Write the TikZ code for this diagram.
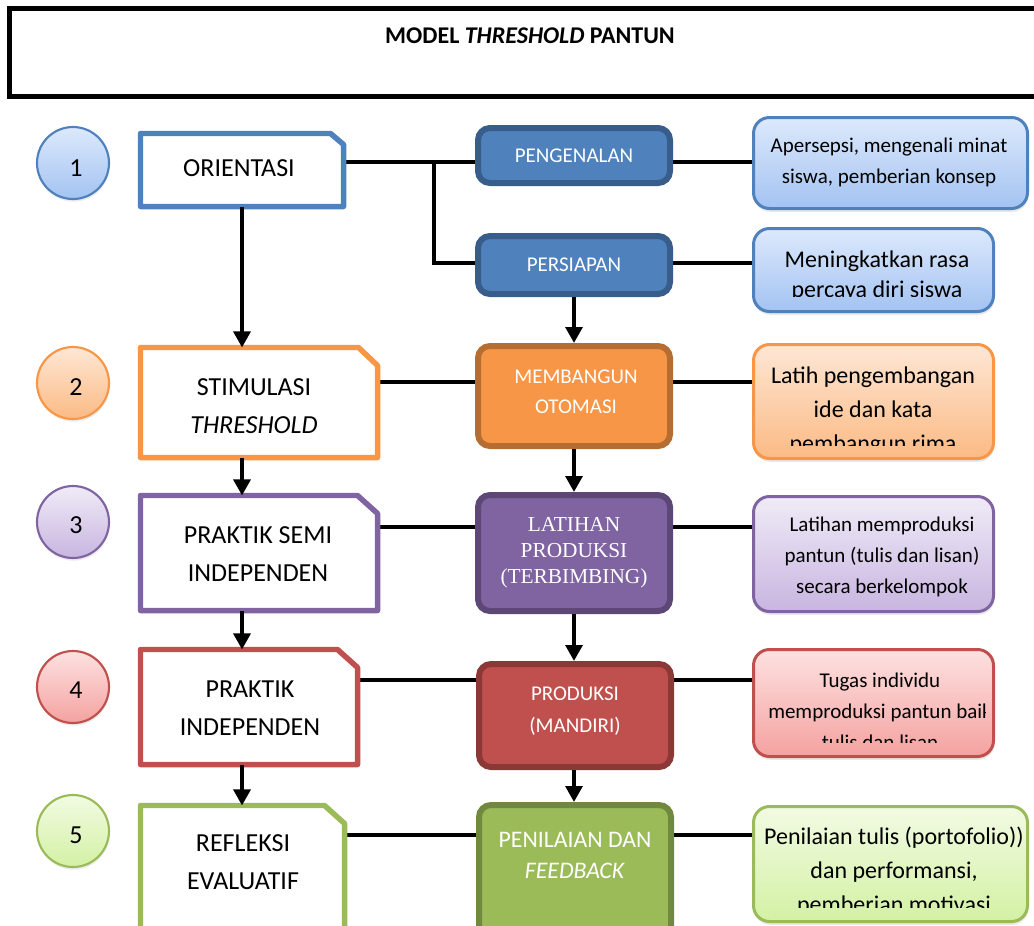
\documentclass[tikz,border=0pt]{standalone}
\usepackage{fontspec}
\setmainfont{Carlito}
\newfontfamily\timesf{Liberation Serif}
\usetikzlibrary{arrows.meta,fit,calc,shadows,backgrounds}
\definecolor{bluM}{HTML}{4F81BD}\definecolor{bluD}{HTML}{385D8A}
\definecolor{bluT}{HTML}{DDE9FC}\definecolor{bluB}{HTML}{A3C3F2}
\definecolor{orgM}{HTML}{F79646}\definecolor{orgD}{HTML}{B66D31}
\definecolor{orgT}{HTML}{FEE7D5}\definecolor{orgB}{HTML}{FBBA84}
\definecolor{purM}{HTML}{8064A2}\definecolor{purD}{HTML}{5C4776}
\definecolor{purT}{HTML}{F0EBF7}\definecolor{purB}{HTML}{C8B5E0}
\definecolor{redM}{HTML}{C0504D}\definecolor{redD}{HTML}{8C3836}
\definecolor{redT}{HTML}{FDE1E1}\definecolor{redB}{HTML}{F4A2A0}
\definecolor{grnM}{HTML}{9BBB59}\definecolor{grnD}{HTML}{71893F}
\definecolor{grnT}{HTML}{F2FBE3}\definecolor{grnB}{HTML}{D3F1A4}
\begin{document}
\begin{tikzpicture}[x=0.75pt,y=-0.75pt,
  lshape/.style={inner sep=0pt},
  lborder/.style={line width=4.1pt, line join=round, fill=white},
  mbox/.style={inner sep=0pt, rounded corners=9pt, line width=4.5pt},
  rbox/.style={inner sep=0pt, rounded corners=12pt, line width=2.25pt,
    drop shadow={opacity=0.18, shadow xshift=0.6pt, shadow yshift=-2.5pt}},
  numc/.style={circle, inner sep=0pt, minimum size=54pt, line width=1.6pt,
    drop shadow={opacity=0.15, shadow xshift=0.5pt, shadow yshift=-2pt}},
  numt/.style={inner sep=0pt, font={\fontsize{19.5pt}{24pt}\selectfont}},
  conn/.style={line width=2.4pt},
  arr/.style={line width=3pt, -{Triangle[width=12.5pt,length=12pt]}},
  ltext/.style={align=center, inner sep=0pt, font={\fontsize{19.5pt}{28.5pt}\selectfont}},
  mtext/.style={align=center, inner sep=0pt, text=white},
  rtext/.style={align=center, inner sep=0pt},
]
\useasboundingbox (0,0) rectangle (1034,925);

% title
\node[fit={(9,8) (1050,96)}, inner sep=0pt, draw, line width=3.75pt] (tbox) {};
\node[inner sep=0pt, font={\fontsize{18pt}{22pt}\selectfont\bfseries}] (title) at (530,36) {MODEL \textit{THRESHOLD} PANTUN};

% number circles
\node[numc, draw=bluM, top color=bluT, bottom color=bluB] (c1) at (73,163) {};
\node[numc, draw=orgM, top color=orgT, bottom color=orgB] (c2) at (73,383) {};
\node[numc, draw=purM, top color=purT, bottom color=purB] (c3) at (73,522) {};
\node[numc, draw=redM, top color=redT, bottom color=redB] (c4) at (73,687) {};
\node[numc, draw=grnM, top color=grnT, bottom color=grnB] (c5) at (73,831) {};
\node[numt] (n1) at (76,168) {1};
\node[numt] (n2) at (76,387) {2};
\node[numt] (n3) at (76,525) {3};
\node[numt] (n4) at (76,690) {4};
\node[numt] (n5) at (76,835) {5};

% left boxes
\node[lshape, fit={(140.75,133.75) (343.25,206.25)}] (l1) {};
\node[lshape, fit={(140.75,347.75) (377.25,457.25)}] (l2) {};
\node[lshape, fit={(140.75,495.75) (377.25,610.25)}] (l3) {};
\node[lshape, fit={(140.75,649.75) (357.25,764.25)}] (l4) {};
\node[lshape, fit={(140.75,805.75) (344.25,940)}] (l5) {};
\draw[lborder, draw=bluM] (l1.south west) -- (l1.north west) -- ($(l1.north east)+(-13,0)$) -- ($(l1.north east)+(0,11)$) -- (l1.south east) -- cycle;
\draw[lborder, draw=orgM] (l2.south west) -- (l2.north west) -- ($(l2.north east)+(-19,0)$) -- ($(l2.north east)+(0,18)$) -- (l2.south east) -- cycle;
\draw[lborder, draw=purM] (l3.south west) -- (l3.north west) -- ($(l3.north east)+(-20,0)$) -- ($(l3.north east)+(0,18)$) -- (l3.south east) -- cycle;
\draw[lborder, draw=redM] (l4.south west) -- (l4.north west) -- ($(l4.north east)+(-20,0)$) -- ($(l4.north east)+(0,18)$) -- (l4.south east) -- cycle;
\draw[lborder, draw=grnM] (l5.south west) -- (l5.north west) -- ($(l5.north east)+(-20,0)$) -- ($(l5.north east)+(0,18)$) -- (l5.south east) -- cycle;
\node[ltext] (l1t) at (239,168) {ORIENTASI};
\node[ltext] (l2t) at (254,406) {STIMULASI\\\textit{THRESHOLD}};
\node[ltext] (l3t) at (258,554) {PRAKTIK SEMI\\INDEPENDEN};
\node[ltext] (l4t) at (250,708.5) {PRAKTIK\\INDEPENDEN};
\node[ltext] (l5t) at (243,862.5) {REFLEKSI\\EVALUATIF};

% middle boxes
\node[mbox, fit={(478,128) (670,183)}, draw=bluD, fill=bluM] (m1) {};
\node[mbox, fit={(478,236) (670,294)}, draw=bluD, fill=bluM] (m2) {};
\node[mbox, fit={(478,346) (670,446)}, draw=orgD, fill=orgM] (m3) {};
\node[mbox, fit={(478,495) (670,611)}, draw=purD, fill=purM] (m4) {};
\node[mbox, fit={(479,664) (671,767)}, draw=redD, fill=redM] (m5) {};
\node[mbox, fit={(479,805) (671,940)}, draw=grnD, fill=grnM] (m6) {};
\node[mtext, font={\fontsize{15.75pt}{22.5pt}\selectfont}] (m1t) at (574,156) {PENGENALAN};
\node[mtext, font={\fontsize{15.75pt}{22.5pt}\selectfont}] (m2t) at (574,265) {PERSIAPAN};
\node[mtext, font={\fontsize{15.75pt}{22.5pt}\selectfont}] (m3t) at (576,392) {MEMBANGUN\\OTOMASI};
\node[mtext, font={\timesf\fontsize{16pt}{19.5pt}\selectfont}] (m4t) at (574,553) {LATIHAN\\PRODUKSI\\(TERBIMBING)};
\node[mtext, font={\fontsize{15.75pt}{24pt}\selectfont}] (m5t) at (575,711) {PRODUKSI\\(MANDIRI)};
\node[mtext, font={\fontsize{17.8pt}{23.25pt}\selectfont}] (m6t) at (575,855) {PENILAIAN DAN\\\textit{FEEDBACK}};

% right boxes
\node[rbox, fit={(753.5,117.5) (1027.5,208.5)}, draw=bluM, top color=bluT, bottom color=bluB] (r1) {};
\node[rbox, fit={(753.5,228.5) (993.5,311.5)}, draw=bluM, top color=bluT, bottom color=bluB] (r2) {};
\node[rbox, fit={(753.5,344.5) (993.5,458.5)}, draw=orgM, top color=orgT, bottom color=orgB] (r3) {};
\node[rbox, fit={(753.5,496.5) (993.5,611.5)}, draw=purM, top color=purT, bottom color=purB] (r4) {};
\node[rbox, fit={(753.5,649.5) (993.5,756.5)}, draw=redM, top color=redT, bottom color=redB] (r5) {};
\node[rbox, fit={(753.5,806.5) (1027.5,921.5)}, draw=grnM, top color=grnT, bottom color=grnB] (r6) {};
\node[rtext, font={\fontsize{15.75pt}{23.25pt}\selectfont}] (r1t) at (889,162) {Apersepsi, mengenali minat\\siswa, pemberian konsep};
\begin{scope}
\clip (752,200) rectangle (1000,296.5);
\node[rtext, font={\fontsize{18pt}{22.5pt}\selectfont}] (r2t) at (877,276) {Meningkatkan rasa\\percaya diri siswa};
\end{scope}
\begin{scope}
\clip (752,340) rectangle (1000,445);
\node[rtext, font={\fontsize{18pt}{25.5pt}\selectfont}] (r3t) at (873,411) {Latih pengembangan\\ide dan kata\\pembangun rima};
\end{scope}
\node[rtext, font={\fontsize{15.75pt}{23pt}\selectfont}] (r4t) at (882,557) {Latihan memproduksi\\pantun (tulis dan lisan)\\secara berkelompok};
\begin{scope}
\clip (752,640) rectangle (985.5,742);
\node[rtext, font={\fontsize{15.75pt}{23.25pt}\selectfont}] (r5t) at (880,711) {Tugas individu\\memproduksi pantun baik\\tulis dan lisan};
\end{scope}
\begin{scope}
\clip (752,800) rectangle (1023,907);
\node[rtext, font={\fontsize{18pt}{25.5pt}\selectfont}] (r6t) at (894,872) {Penilaian tulis (portofolio))\\dan performansi,\\pemberian motivasi};
\end{scope}

% connectors
\coordinate (j1) at (434,162);
\coordinate (j2) at (434,263);
\coordinate (y3) at (0,382);
\coordinate (y4) at (0,527);
\coordinate (y5) at (0,680);
\coordinate (y6) at (0,835);
\begin{scope}[on background layer]
\fill[white] (0,0) rectangle (1034,925);
\draw[conn] (l1.east |- j1) -- (m1.west |- j1);
\draw[conn] (j1) -- (j2) -- (m2.west |- j2);
\draw[conn] (m1.east |- j1) -- (r1.west |- j1);
\draw[conn] (m2.east |- j2) -- (r2.west |- j2);
\draw[conn] (l2.east |- y3) -- (m3.west |- y3);
\draw[conn] (m3.east |- y3) -- (r3.west |- y3);
\draw[conn] (l3.east |- y4) -- (m4.west |- y4);
\draw[conn] (m4.east |- y4) -- (r4.west |- y4);
\draw[conn] (l4.east |- y5) -- (m5.west |- y5);
\draw[conn] (m5.east |- y5) -- (r5.west |- y5);
\draw[conn] (l5.east |- y6) -- (m6.west |- y6);
\draw[conn] (m6.east |- y6) -- (r6.west |- y6);
\end{scope}

% arrows
\draw[arr] (l1.south) -- (l1.south |- l2.north);
\draw[arr] (l1.south |- l2.south) -- (l1.south |- l3.north);
\draw[arr] (l1.south |- l3.south) -- (l1.south |- l4.north);
\draw[arr] (l1.south |- l4.south) -- (l1.south |- l5.north);
\draw[arr] (m2.south) -- (m3.north);
\draw[arr] (m3.south) -- (m4.north);
\draw[arr] (m4.south) -- (m4.south |- m5.north);
\draw[arr] (m4.south |- m5.south) -- (m4.south |- m6.north);
\end{tikzpicture}
\end{document}
